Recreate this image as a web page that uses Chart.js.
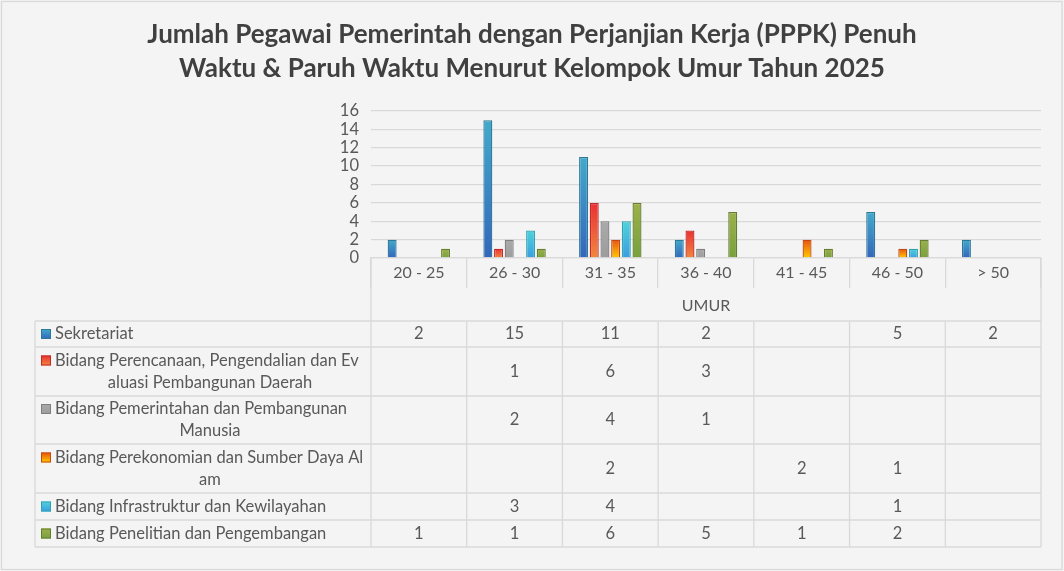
<!DOCTYPE html>
<html>
<head>
<meta charset="utf-8">
<script src="https://cdn.jsdelivr.net/npm/chart.js@4"></script>
<style>
  html, body { margin: 0; padding: 0; background: #f4f4f4; }
  #wrap { width: 1064px; height: 571px; position: relative; }
</style>
</head>
<body>
<div id="wrap"><canvas id="chart"></canvas></div>
<script>
// --- data ---
const categories = ['20 - 25', '26 - 30', '31 - 35', '36 - 40', '41 - 45', '46 - 50', '> 50'];

const titleLines = [
    'Jumlah Pegawai Pemerintah dengan Perjanjian Kerja (PPPK) Penuh',
    'Waktu & Paruh Waktu Menurut Kelompok Umur Tahun 2025'
];

const seriesNames = [
    'Sekretariat',
    'Bidang Perencanaan, Pengendalian dan Evaluasi Pembangunan Daerah',
    'Bidang Pemerintahan dan Pembangunan Manusia',
    'Bidang Perekonomian dan Sumber Daya Alam',
    'Bidang Infrastruktur dan Kewilayahan',
    'Bidang Penelitian dan Pengembangan'
];
// how the names wrap inside the data table
const seriesLines = [
    ['Sekretariat'],
    ['Bidang Perencanaan, Pengendalian dan Ev', 'aluasi Pembangunan Daerah'],
    ['Bidang Pemerintahan dan Pembangunan', 'Manusia'],
    ['Bidang Perekonomian dan Sumber Daya Al', 'am'],
    ['Bidang Infrastruktur dan Kewilayahan'],
    ['Bidang Penelitian dan Pengembangan']
];

const sekretariat   = [2, 15, 11, 2, null, 5, 2];
const perencanaan   = [null, 1, 6, 3, null, null, null];
const pemerintahan  = [null, 2, 4, 1, null, null, null];
const perekonomian  = [null, null, 2, null, 2, 1, null];
const infrastruktur = [null, 3, 4, null, null, 1, null];
const penelitian    = [1, 1, 6, 5, 1, 2, null];

const seriesValues = [sekretariat, perencanaan, pemerintahan, perekonomian, infrastruktur, penelitian];

const yMax = 16;
const yStep = 2;

// --- styles ---
const FONT = 'Lato, "Open Sans", sans-serif';
const TEXT = '#595959';
const LINE = '#d9d9d9';

// top colour, bottom colour, border
const barColors = [
    ['#42aacb', '#3466bd', '#2d7896'],
    ['#ea3034', '#f2873e', '#c22a28'],
    ['#aaaaaa', '#9c9c9c', '#7f7f7f'],
    ['#e85210', '#ffcb00', '#c24a12'],
    ['#4fd3da', '#3a9de0', '#2fa3b3'],
    ['#9cb04a', '#77a13e', '#667c2e']
];

function barFill(top, bottom) {
    return ctx => {
        const chart = ctx.chart;
        const y = chart.scales && chart.scales.y;
        if (!chart.chartArea || !y || ctx.raw == null) return bottom;
        const y0 = y.getPixelForValue(0);
        const y1 = y.getPixelForValue(ctx.raw);
        if (!isFinite(y0) || !isFinite(y1) || y0 === y1) return bottom;
        const g = chart.ctx.createLinearGradient(0, y1, 0, y0);
        g.addColorStop(0, top);
        g.addColorStop(1, bottom);
        return g;
    };
}

function keyFill(ctx, i, y, s) {
    const g = ctx.createLinearGradient(0, y, 0, y + s);
    g.addColorStop(0, barColors[i][0]);
    g.addColorStop(1, barColors[i][1]);
    return g;
}

// background, outer frame and the two-line title across the whole canvas
const background = {
    id: 'background',
    beforeDraw(chart) {
        const { ctx, width, height } = chart;
        ctx.save();
        ctx.fillStyle = '#f4f4f4';
        ctx.fillRect(0, 0, width, height);
        ctx.strokeStyle = LINE;
        ctx.lineWidth = 1.3;
        ctx.strokeRect(1.5, 1.5, width - 3.5, height - 3);

        ctx.fillStyle = '#404040';
        ctx.font = 'bold 26px ' + FONT;
        ctx.textAlign = 'center';
        ctx.textBaseline = 'middle';
        titleLines.forEach((t, i) => ctx.fillText(t, width / 2, 35 + i * 34));
        ctx.restore();
    }
};

// data table under the x axis
const dataTable = {
    id: 'dataTable',
    afterDraw(chart) {
        const ctx = chart.ctx;
        const x = chart.scales.x;
        const colW = x.width / categories.length;
        const tableLeft = 35;
        const rows = [321, 347, 396, 444, 493, 520, 547];
        const axisTop = x.top;

        ctx.save();
        ctx.strokeStyle = LINE;
        ctx.lineWidth = 1.3;
        ctx.beginPath();
        rows.forEach(r => {
            ctx.moveTo(tableLeft, r);
            ctx.lineTo(x.right, r);
        });
        ctx.moveTo(x.left, axisTop);
        ctx.lineTo(x.left, rows[rows.length - 1]);
        ctx.moveTo(x.right, axisTop);
        ctx.lineTo(x.right, rows[rows.length - 1]);
        ctx.moveTo(tableLeft, rows[0]);
        ctx.lineTo(tableLeft, rows[rows.length - 1]);
        for (let i = 1; i < categories.length; i++) {
            const cx = x.left + colW * i;
            ctx.moveTo(cx, rows[0]);
            ctx.lineTo(cx, rows[rows.length - 1]);
        }
        ctx.stroke();

        ctx.font = '16.5px ' + FONT;
        ctx.textBaseline = 'middle';

        seriesValues.forEach((vals, si) => {
            const top = rows[si], bottom = rows[si + 1];
            const mid = (top + bottom) / 2;
            const lines = seriesLines[si];
            const lh = 22;
            const firstY = mid - (lines.length - 1) * lh / 2;

            // legend key
            const s = 10;
            ctx.fillStyle = keyFill(ctx, si, firstY - s / 2, s);
            ctx.fillRect(41, firstY - s / 2, s, s);
            ctx.strokeStyle = barColors[si][2];
            ctx.lineWidth = 1;
            ctx.strokeRect(41.5, firstY - s / 2 + 0.5, s - 1, s - 1);

            ctx.fillStyle = TEXT;
            lines.forEach((ln, li) => {
                if (li === 0) {
                    ctx.textAlign = 'left';
                    ctx.fillText(ln, 55, firstY);
                } else {
                    ctx.textAlign = 'center';
                    ctx.fillText(ln, 210, firstY + li * lh);
                }
            });

            ctx.textAlign = 'center';
            vals.forEach((v, ci) => {
                if (v == null) return;
                ctx.fillText(String(v), x.getPixelForValue(ci), mid);
            });
        });
        ctx.restore();
    }
};

const datasets = seriesNames.map((name, i) => ({
    label: name,
    data: seriesValues[i],
    backgroundColor: barFill(barColors[i][0], barColors[i][1]),
    borderColor: barColors[i][2],
    borderWidth: 1.3,
    categoryPercentage: 0.67,
    barPercentage: 0.84
}));

new Chart(document.getElementById('chart'), {
    type: 'bar',
    data: { labels: categories, datasets: datasets },
    options: {
        responsive: true,
        maintainAspectRatio: false,
        animation: false,
        devicePixelRatio: 1,
        layout: { padding: { left: 331, right: 23, top: 111, bottom: 250 } },
        plugins: {
            legend: { display: false },
            tooltip: { enabled: false },
            title: { display: false }
        },
        scales: {
            x: {
                grid: { display: true, drawOnChartArea: false, drawTicks: true, tickLength: 30, color: LINE, lineWidth: 1.3, offset: true },
                border: { display: true, color: LINE, width: 1.3 },
                ticks: { color: TEXT, font: { family: FONT, size: 16 }, padding: -25, maxRotation: 0, autoSkip: false },
                title: { display: true, text: 'UMUR', color: TEXT, font: { family: FONT, size: 16 }, padding: { top: 0, bottom: 6 } },
                afterFit: s => { s.height = 63; }
            },
            y: {
                min: 0,
                max: yMax,
                ticks: { stepSize: yStep, autoSkip: false, color: TEXT, font: { family: FONT, size: 16.5 }, padding: 12 },
                grid: { color: LINE, lineWidth: 1.3, drawTicks: false },
                border: { display: false },
                afterFit: s => { s.width = 40; }
            }
        }
    },
    plugins: [background, dataTable]
});
</script>
</body>
</html>
